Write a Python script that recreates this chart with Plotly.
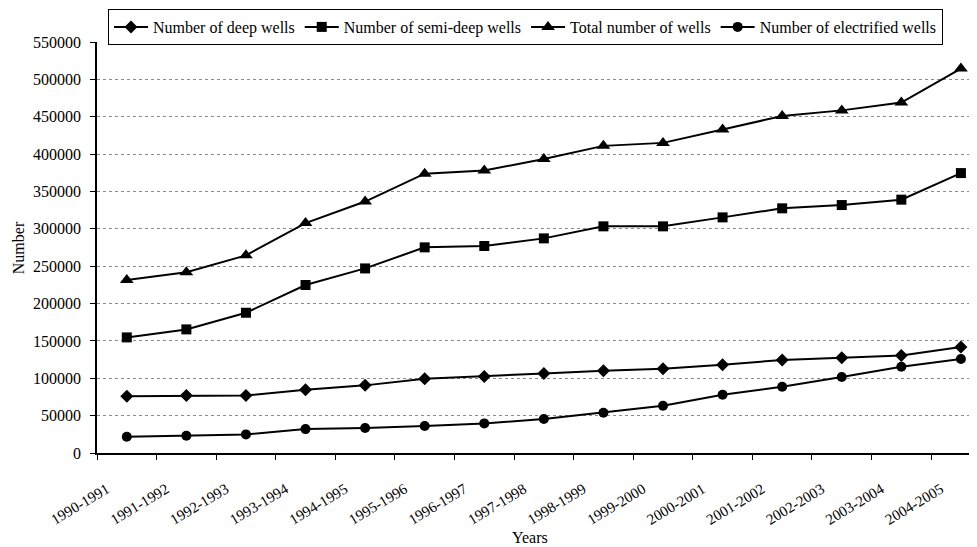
import plotly.graph_objects as go

years = ["1990-1991", "1991-1992", "1992-1993", "1993-1994", "1994-1995",
         "1995-1996", "1996-1997", "1997-1998", "1998-1999", "1999-2000",
         "2000-2001", "2001-2002", "2002-2003", "2003-2004", "2004-2005"]

deep_wells = [76000, 77000, 77000, 84500, 90500, 99500, 102500, 106500,
              110000, 112800, 118200, 124400, 127500, 130600, 141800]
semi_deep_wells = [154700, 165400, 187700, 224800, 247000, 275200, 277000,
                   287200, 303300, 303300, 315300, 327400, 331800, 339000, 374600]
total_wells = [231500, 242000, 264500, 307700, 336500, 373800, 378000, 393500,
               411000, 415000, 433000, 450900, 458500, 469000, 514500]
electrified_wells = [21800, 23100, 24900, 32000, 33400, 36100, 39600, 45400,
                     53900, 63300, 78000, 88700, 101700, 115500, 125700]

y_ticks = list(range(0, 550001, 50000))

FONT = "Liberation Serif, Times New Roman, serif"

series = [
    ("Number of deep wells", deep_wells, "diamond", 10),
    ("Number of semi-deep wells", semi_deep_wells, "square", 10),
    ("Total number of wells", total_wells, "triangle-up", 12),
    ("Number of electrified wells", electrified_wells, "circle", 10),
]

fig = go.Figure()
for name, vals, sym, sz in series:
    fig.add_trace(go.Scatter(
        x=years, y=vals, name=name, mode="lines+markers",
        line=dict(color="black", width=2),
        marker=dict(symbol=sym, size=sz, color="black"),
    ))

fig.update_layout(
    template="none",
    width=977, height=547,
    margin=dict(l=89, r=8, t=34, b=102, autoexpand=False),
    paper_bgcolor="white", plot_bgcolor="white",
    font=dict(family=FONT, size=16, color="black"),
    showlegend=True,
    legend=dict(
        orientation="h", x=0.5297, xanchor="center", xref="container",
        y=1 - 1 / 547, yanchor="top", yref="container",
        bordercolor="black", borderwidth=1, bgcolor="white",
        font=dict(family=FONT, size=16, color="black"),
        itemwidth=34, tracegroupgap=0,
    ),
    xaxis=dict(
        type="category", range=[-0.5, 14.27], automargin=False,
        tickson="boundaries", ticks="outside", ticklen=5, tickcolor="black",
        showline=True, linecolor="black", linewidth=1.5,
        showgrid=False, zeroline=False, tickangle=-31,
        ticklabelstandoff=20, ticklabelshift=-20,
        tickfont=dict(family=FONT, size=15),
    ),
    yaxis=dict(
        range=[0, 550000], tickvals=y_ticks, ticktext=[str(v) for v in y_ticks],
        automargin=False,
        ticks="outside", ticklen=5, tickcolor="black",
        showline=True, linecolor="black", linewidth=1.5,
        showgrid=True, gridcolor="#8a8a8a", griddash="dot", gridwidth=1,
        zeroline=False, ticklabelstandoff=6,
        tickfont=dict(family=FONT, size=16),
    ),
    annotations=[
        dict(text="Years", xref="paper", yref="paper", x=0.492, y=-0.206,
             xanchor="center", yanchor="middle", showarrow=False,
             font=dict(family=FONT, size=16)),
        dict(text="Number", xref="paper", yref="paper", x=-0.089, y=0.5,
             xanchor="center", yanchor="middle", showarrow=False, textangle=-90,
             font=dict(family=FONT, size=16)),
    ],
)

fig.write_html("out.html")
